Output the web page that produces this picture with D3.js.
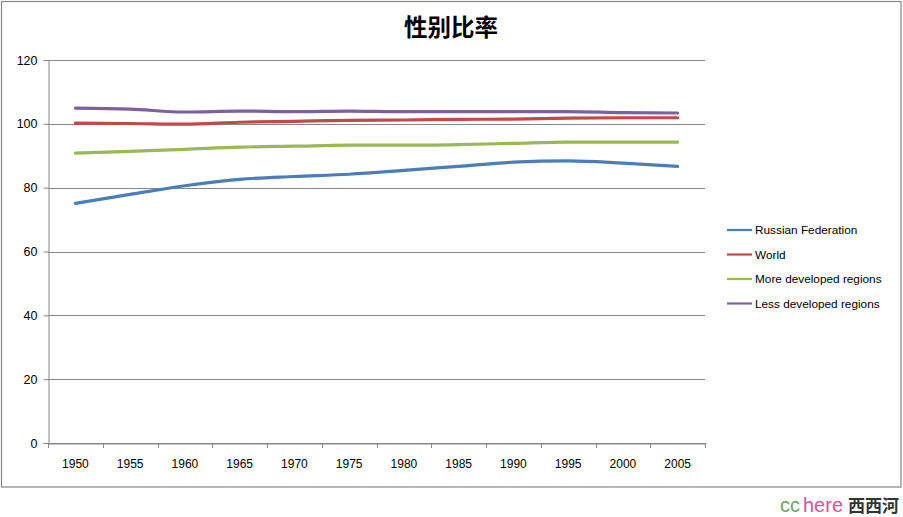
<!DOCTYPE html>
<html><head><meta charset="utf-8">
<script src="https://cdn.jsdelivr.net/npm/d3@7"></script>
<style>body{margin:0;background:#fff}svg{display:block}</style>
</head><body><svg id="c" width="903" height="517"></svg>
<script>
const years = ["1950","1955","1960","1965","1970","1975","1980","1985","1990","1995","2000","2005"];
const yTicks = [0,20,40,60,80,100,120];
const seriesNames = ["Russian Federation","World","More developed regions","Less developed regions"];
const seriesColors = ["#4A7EBB","#BE4B48","#98B954","#7D60A0"];
const russia = [75.1,77.9,80.6,82.6,83.5,84.2,85.4,86.7,88.0,88.4,87.7,86.7];
const world = [100.2,100.1,99.9,100.5,100.8,101.1,101.2,101.4,101.5,101.8,101.9,101.9];
const moreDev = [90.8,91.4,92.0,92.7,93.0,93.3,93.3,93.5,93.9,94.3,94.3,94.3];
const lessDev = [104.9,104.6,103.7,104.0,103.8,104.0,103.8,103.8,103.8,103.8,103.5,103.4];
const allSeries = [russia, world, moreDev, lessDev];

const svg = d3.select("#c");
const font = "'Liberation Sans', 'DejaVu Sans', sans-serif";
svg.append("rect").attr("x",1.5).attr("y",1.5).attr("width",899.5).attr("height",485.5)
  .attr("fill","#fff").attr("stroke","#868686").attr("stroke-width",1.2);

const L=48, R=705, T=60, B=443;
const x = d3.scaleBand().domain(years).range([L,R]);
const y = d3.scaleLinear().domain([0,120]).range([B,T]);

// gridlines
svg.append("g").selectAll("line").data(yTicks).join("line")
  .attr("x1",L).attr("x2",R).attr("y1",d=>Math.round(y(d))+0.5).attr("y2",d=>Math.round(y(d))+0.5)
  .attr("stroke","#868686").attr("stroke-width",1);

// y axis
const ya = svg.append("g").attr("transform",`translate(${L+0.5},0)`)
  .call(d3.axisLeft(y).tickValues(yTicks).tickSize(5).tickPadding(6));
ya.select(".domain").attr("stroke","#868686");
ya.selectAll(".tick line").attr("stroke","#868686");
ya.selectAll("text").attr("font-family",font).attr("font-size",12.5).attr("fill","#000");

// x axis
const xa = svg.append("g").attr("transform",`translate(0,${B+0.5})`)
  .call(d3.axisBottom(x).tickSize(0).tickPadding(16));
xa.select(".domain").attr("stroke","#868686");
xa.selectAll("text").attr("font-family",font).attr("font-size",12).attr("fill","#000");
const bounds = years.map((d,i)=>x(d)).concat([R]);
svg.append("g").selectAll("line").data(bounds).join("line")
  .attr("x1",d=>Math.round(d)+0.5).attr("x2",d=>Math.round(d)+0.5).attr("y1",B).attr("y2",B+5)
  .attr("stroke","#868686");

// lines
const line = d3.line().x((d,i)=>x(years[i])+x.bandwidth()/2).y(d=>y(d)).curve(d3.curveMonotoneX);
svg.append("g").selectAll("path").data(allSeries).join("path")
  .attr("d",line).attr("fill","none").attr("stroke",(d,i)=>seriesColors[i])
  .attr("stroke-width",3.2).attr("stroke-linecap","round");

// legend
const lg = svg.append("g").selectAll("g").data(seriesNames).join("g")
  .attr("transform",(d,i)=>`translate(727,${230+i*24.5})`);
lg.append("line").attr("x1",0).attr("x2",25).attr("stroke",(d,i)=>seriesColors[i]).attr("stroke-width",2.2);
lg.append("text").attr("x",28).attr("y",4).text(d=>d)
  .attr("font-family",font).attr("font-size",11.8).attr("fill","#000");

// title
svg.append("text").attr("x",451).attr("y",36).attr("text-anchor","middle")
  .attr("font-family","'Noto Sans CJK SC', sans-serif").attr("font-weight","bold").attr("font-size",23.5)
  .text("性别比率");

// watermark
const wm = svg.append("text").attr("x",899).attr("y",512).attr("text-anchor","end");
wm.append("tspan").text("cc").attr("fill","#6aaa5a").attr("font-family",font).attr("font-size",20);
wm.append("tspan").text("here").attr("fill","#e0509a").attr("font-family",font).attr("font-size",20).attr("dx",3);
wm.append("tspan").text("西西河").attr("fill","#333").attr("font-family","'Noto Sans CJK SC', sans-serif")
  .attr("font-weight","bold").attr("font-size",17).attr("dx",5);
</script></body></html>
